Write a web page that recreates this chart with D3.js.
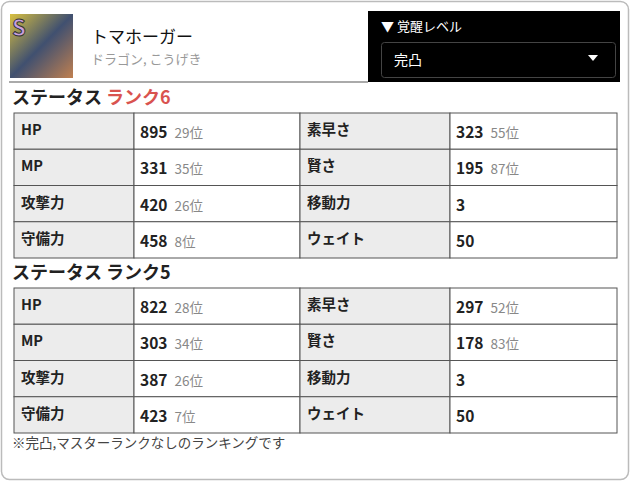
<!DOCTYPE html>
<html><head><meta charset="utf-8">
<script src="https://cdn.jsdelivr.net/npm/d3@7"></script>
<style>body{margin:0;background:#fff;font-family:"Noto Sans CJK JP",sans-serif}</style>
</head><body><svg width="630" height="481"></svg>
<script>
const labels = [['HP','素早さ'],['MP','賢さ'],['攻撃力','移動力'],['守備力','ウェイト']];
const rank6Values = [[895,323],[331,195],[420,3],[458,50]];
const rank6Ranks = [['29位','55位'],['35位','87位'],['26位',''],['8位','']];
const rank5Values = [[822,297],[303,178],[387,3],[423,50]];
const rank5Ranks = [['28位','52位'],['34位','83位'],['26位',''],['7位','']];

const svg = d3.select('svg');
svg.append('rect').attr('x',1.5).attr('y',1.5).attr('width',627).attr('height',478).attr('rx',8)
  .attr('fill','#fff').attr('stroke','#bbb').attr('stroke-width',1.5);

// header
const defs = svg.append('defs');
const lg = defs.append('linearGradient').attr('id','ig').attr('x1',0).attr('y1',0).attr('x2',1).attr('y2',1);
lg.append('stop').attr('offset',0).attr('stop-color','#d8c040');
lg.append('stop').attr('offset',0.5).attr('stop-color','#405070');
lg.append('stop').attr('offset',1).attr('stop-color','#c08050');
const icon = svg.append('g');
icon.append('rect').attr('x',10).attr('y',14).attr('width',63).attr('height',64).attr('fill','url(#ig)');
icon.append('text').attr('x',12).attr('y',36).attr('font-size',22).attr('font-weight','bold').attr('fill','#c8a0e0').attr('stroke','#333').text('S');

svg.append('text').attr('x',91).attr('y',43).attr('font-size',17).attr('fill','#111').text('トマホーガー');
svg.append('text').attr('x',91).attr('y',64).attr('font-size',13).attr('fill','#999').text('ドラゴン, こうげき');
svg.append('line').attr('x1',9).attr('x2',368).attr('y1',82).attr('y2',82).attr('stroke','#aaa').attr('stroke-width',2);

svg.append('rect').attr('x',368).attr('y',11).attr('width',252).attr('height',71).attr('fill','#000');
svg.append('text').attr('x',381).attr('y',31).attr('font-size',13).attr('fill','#fff').text('▼ 覚醒レベル');
svg.append('rect').attr('x',381.5).attr('y',42.5).attr('width',234).attr('height',35).attr('rx',3)
  .attr('fill','#000').attr('stroke','#444');
svg.append('text').attr('x',394).attr('y',65).attr('font-size',14).attr('fill','#fff').text('完凸');
svg.append('path').attr('d','M588 55 L598 55 L593 61 Z').attr('fill','#fff');

const x = d3.scaleOrdinal().domain([0,1,2,3]).range([14,134,300,450]);
const colW = [120,166,150,167];

function table(title, red, y0, values, ranks){
  const t = svg.append('text').attr('x',12).attr('y',y0-9).attr('font-size',18).attr('font-weight','bold').attr('fill','#222');
  t.append('tspan').text('ステータス ');
  t.append('tspan').attr('fill', red ? '#d9534f' : '#222').text(title);
  const y = d3.scaleBand().domain(d3.range(4)).range([y0, y0+145]);
  const cells = [];
  labels.forEach((row,r)=>row.forEach((lab,c)=>{
    cells.push({r, c:c*2, kind:'label', text:lab});
    cells.push({r, c:c*2+1, kind:'val', v:values[r][c], rk:ranks[r][c]});
  }));
  const cg = svg.append('g').selectAll('g').data(cells).enter().append('g')
    .attr('transform', d=>`translate(${x(d.c)},${y(d.r)})`);
  cg.append('rect').attr('width',d=>colW[d.c]).attr('height',y.bandwidth())
    .attr('fill',d=>d.kind==='label'?'#ececec':'#fff').attr('stroke','#555').attr('stroke-width',1);
  cg.filter(d=>d.kind==='label').append('text').attr('x',7).attr('y',22).attr('font-size',14.5)
    .attr('font-weight','bold').attr('fill','#222').text(d=>d.text);
  const vt = cg.filter(d=>d.kind==='val').append('text').attr('x',6).attr('y',25).attr('font-size',15.5);
  vt.append('tspan').attr('font-weight','bold').attr('fill','#222').text(d=>d.v);
  vt.append('tspan').attr('dx',7).attr('font-size',13.5).attr('fill','#888').text(d=>d.rk);
}
table('ランク6', true, 113, rank6Values, rank6Ranks);
table('ランク5', false, 288, rank5Values, rank5Ranks);

svg.append('text').attr('x',12).attr('y',448).attr('font-size',13.5).attr('fill','#444').text('※完凸,マスターランクなしのランキングです');
</script></body></html>
